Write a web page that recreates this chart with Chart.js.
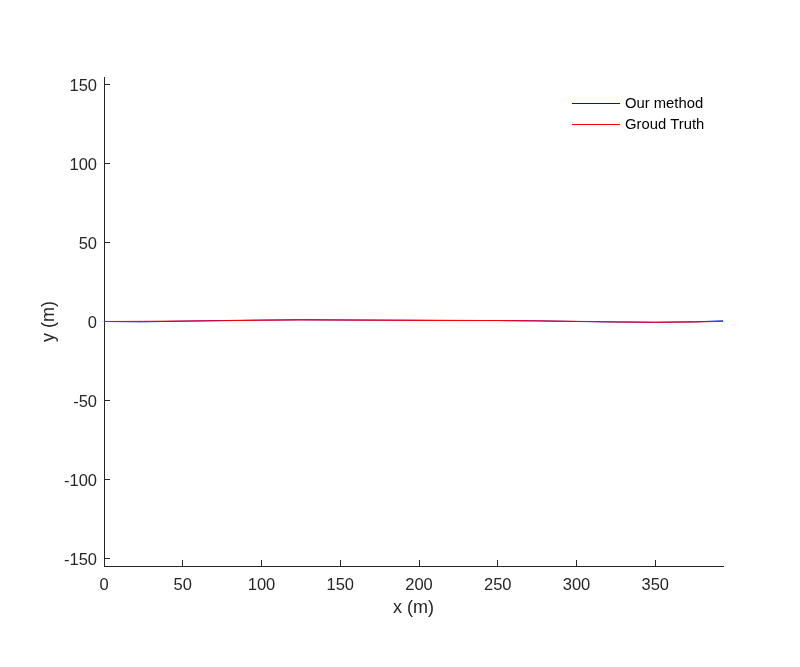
<!DOCTYPE html>
<html>
<head>
<meta charset="utf-8">
<script src="https://cdn.jsdelivr.net/npm/chart.js@4"></script>
<style>
  body { margin: 0; background: #fff; }
  canvas { display: block; }
</style>
</head>
<body>
<canvas id="chart" width="800" height="667"></canvas>
<script>
// trajectory samples (x in m)
const xValues = [0, 25, 50, 75, 100, 125, 150, 175, 200, 225, 250, 275, 300, 325, 350, 375, 393];
const ourMethod = [0, -0.2, 0.2, 0.6, 0.9, 1.1, 1.0, 0.9, 0.8, 0.7, 0.6, 0.4, 0.0, -0.3, -0.5, -0.2, 0.4];
const groundTruth = [0, 0.1, 0.3, 0.5, 0.8, 1.0, 0.9, 0.8, 0.7, 0.6, 0.6, 0.4, 0.1, -0.3, -0.5, -0.3, 0.1];
const xTicks = [0, 50, 100, 150, 200, 250, 300, 350];
const yTicks = [-150, -100, -50, 0, 50, 100, 150];

const FONT = "'Liberation Sans', Arial, sans-serif";
const AXIS = '#262626';

const toPoints = ys => xValues.map((x, i) => ({x: x, y: ys[i]}));

// legend drawn inside the axes, top right, like the matlab one
const insideLegend = {
    id: 'insideLegend',
    afterDraw(chart) {
        const ctx = chart.ctx;
        const area = chart.chartArea;
        const x0 = area.right - 151;
        ctx.save();
        ctx.font = '14.8px ' + FONT;
        ctx.textBaseline = 'middle';
        ctx.fillStyle = '#000';
        chart.data.datasets.forEach((ds, i) => {
            const y = area.top + 26 + i * 21;
            ctx.strokeStyle = ds.borderColor;
            ctx.lineWidth = 1;
            ctx.beginPath();
            ctx.moveTo(x0, y + 0.5);
            ctx.lineTo(x0 + 48, y + 0.5);
            ctx.stroke();
            ctx.fillText(ds.label, x0 + 53, y + 1);
        });
        ctx.restore();
    }
};

new Chart(document.getElementById('chart'), {
    type: 'line',
    data: {
        datasets: [
            {
                label: 'Our method',
                data: toPoints(ourMethod),
                borderColor: '#0000ff',
                borderWidth: 1,
                pointRadius: 0,
                order: 1
            },
            {
                label: 'Groud Truth',
                data: toPoints(groundTruth),
                borderColor: '#ff0000',
                borderWidth: 1,
                pointRadius: 0,
                order: 0
            }
        ]
    },
    options: {
        responsive: false,
        animation: false,
        layout: {
            padding: {top: 77, right: 77, left: 0, bottom: 0}
        },
        scales: {
            x: {
                type: 'linear',
                min: 0,
                max: 393,
                afterBuildTicks: axis => { axis.ticks = xTicks.map(v => ({value: v})); },
                afterFit: axis => { axis.height = 101; },
                ticks: {
                    color: AXIS,
                    font: {family: FONT, size: 16.5},
                    padding: 16,
                    maxRotation: 0
                },
                grid: {
                    drawOnChartArea: false,
                    tickLength: -6,
                    tickColor: AXIS
                },
                border: {color: AXIS, width: 1},
                title: {
                    display: true,
                    text: 'x (m)',
                    color: AXIS,
                    font: {family: FONT, size: 18},
                    padding: {top: 0, bottom: 48}
                }
            },
            y: {
                type: 'linear',
                min: -155,
                max: 155,
                afterBuildTicks: axis => { axis.ticks = yTicks.map(v => ({value: v})); },
                afterFit: axis => { axis.width = 104; },
                ticks: {
                    color: AXIS,
                    font: {family: FONT, size: 16.5},
                    padding: 13,
                    labelOffset: 2
                },
                grid: {
                    drawOnChartArea: false,
                    tickLength: -6,
                    tickColor: AXIS
                },
                border: {color: AXIS, width: 1},
                title: {
                    display: true,
                    text: 'y (m)',
                    color: AXIS,
                    font: {family: FONT, size: 18},
                    padding: {top: 38, bottom: 0}
                }
            }
        },
        plugins: {
            legend: {display: false},
            tooltip: {enabled: false}
        }
    },
    plugins: [insideLegend]
});
</script>
</body>
</html>
